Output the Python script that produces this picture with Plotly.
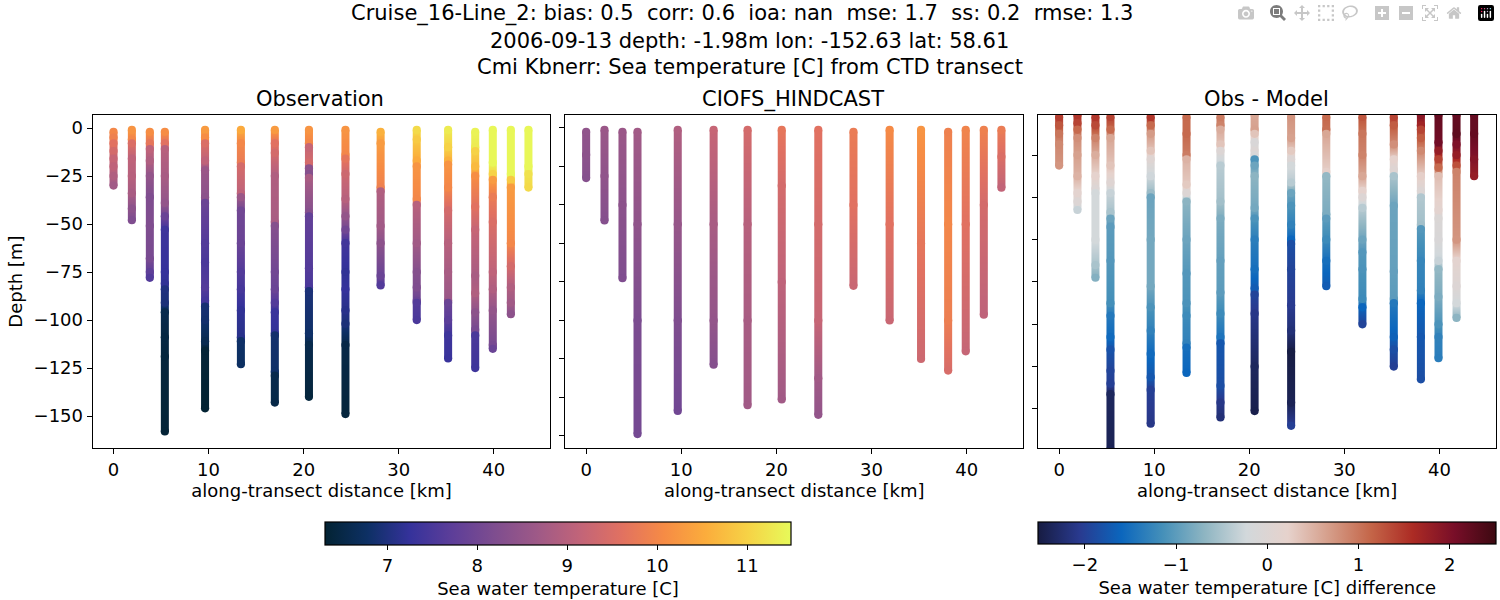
import plotly.graph_objects as go

FONT = "DejaVu Sans"
W, H = 1500, 600

distance_km = [0.0, 1.93, 3.82, 5.4, 9.63, 13.4, 16.97, 20.56, 24.4, 28.1, 31.9, 35.2, 38.05, 39.9, 41.8, 43.65]

# (depth m, temperature C) read along each cast
obs_casts = [
    [(2,10.0),(5,9.9),(8,9.6),(12,9.4),(16,9.2),(20,9.1),(25,8.9),(30,8.7)],
    [(1,10.2),(6,10.0),(8,9.5),(16,9.1),(25,9.0),(34,8.8),(42,8.4),(48,8.2)],
    [(2,10.1),(8,9.7),(11,9.1),(17,8.9),(25,8.5),(36,8.2),(51,8.2),(68,8.1),(75,7.75),(78,7.6)],
    [(2,10.1),(8,9.6),(11,9.0),(25,8.8),(39,8.5),(46,7.9),(53,7.35),(75,7.25),(81,7.2),(84,7.0),(91,6.95),(96,6.55),(109,6.45),(119,6.4),(158,6.35)],
    [(1,10.3),(5,10.1),(8,9.5),(17,9.1),(22,8.6),(36,8.4),(39,7.9),(60,7.6),(70,7.5),(83,7.6),(90,7.4),(93,6.9),(100,6.85),(111,6.6),(116,6.35),(146,6.3)],
    [(1,10.5),(8,10.0),(18,9.8),(20,9.4),(34,9.1),(36,8.6),(43,8.0),(60,7.9),(75,7.6),(84,7.45),(95,7.2),(109,7.1),(111,6.8),(123,6.75)],
    [(1,10.3),(8,9.6),(13,9.4),(25,8.9),(49,8.8),(51,8.3),(75,8.0),(84,7.9),(91,7.6),(96,7.3),(107,7.2),(108,6.85),(127,6.8),(129,6.55),(143,6.5)],
    [(1,10.2),(8,10.0),(10,9.2),(18,9.4),(21,8.4),(24,8.3),(26,8.8),(44,8.3),(46,7.8),(73,7.6),(83,7.5),(85,6.95),(107,6.8),(113,6.55),(140,6.4)],
    [(1,10.2),(14,10.0),(16,9.7),(24,9.3),(37,9.0),(46,8.5),(53,8.0),(60,7.4),(75,7.2),(84,7.25),(95,7.1),(102,6.95),(113,6.5),(149,6.4)],
    [(2,10.6),(8,10.3),(31,9.9),(33,8.9),(51,8.7),(60,8.4),(77,7.9),(82,7.6)],
    [(1,11.1),(6,10.9),(17,10.5),(20,10.2),(37,10.0),(40,9.0),(60,8.7),(75,8.3),(83,8.2),(90,7.9),(91,7.6),(100,7.5)],
    [(1,11.3),(10,11.0),(17,10.6),(19,10.2),(31,10.0),(43,9.4),(60,9.0),(75,8.8),(90,8.6),(91,7.9),(100,7.7),(108,7.35),(120,7.3)],
    [(2,11.4),(10,11.3),(12,11.0),(20,10.7),(25,10.1),(41,9.6),(53,9.2),(77,8.8),(86,8.9),(96,8.4),(105,8.1),(108,7.5),(125,7.35)],
    [(1,11.45),(18,11.45),(24,11.0),(27,10.3),(36,9.8),(49,9.5),(75,9.1),(84,8.9),(95,8.5),(113,8.1),(115,7.9)],
    [(1,11.45),(24,11.45),(27,10.9),(31,10.3),(60,10.0),(72,9.4),(83,8.9),(91,8.7),(97,8.4)],
    [(1,11.45),(20,11.45),(24,11.2),(31,11.1)],
]

model_casts = [
    [(2,8.45),(14,8.4),(26,8.3)],
    [(1,8.6),(25,8.45),(48,8.3)],
    [(2,8.6),(40,8.4),(78,8.2)],
    [(2,8.7),(50,8.45),(100,8.15),(159,8.05)],
    [(1,8.9),(50,8.55),(100,8.2),(147,8.0)],
    [(1,9.2),(50,8.8),(100,8.5),(123,8.3)],
    [(1,9.4),(50,9.0),(100,8.8),(144,8.7)],
    [(1,9.7),(30,9.4),(80,9.1),(141,8.7)],
    [(1,9.6),(50,9.4),(100,9.2),(130,8.7),(149,8.5)],
    [(2,9.8),(40,9.6),(82,9.25)],
    [(1,10.05),(50,9.6),(100,9.25)],
    [(1,10.2),(60,9.7),(120,9.3)],
    [(2,9.9),(50,10.0),(100,9.85),(126,9.45)],
    [(1,9.95),(50,9.6),(116,9.2)],
    [(1,9.9),(40,9.4),(97,9.1)],
    [(1,9.8),(15,9.5),(31,9.15)],
]

diff_casts = [
    [(2,1.45),(6,1.25),(10,1.0),(15,0.85),(25,0.75)],
    [(1,1.5),(5,1.4),(8,1.1),(12,0.8),(20,0.65),(30,0.5),(38,0.15),(42,0.0),(46,-0.3)],
    [(2,1.5),(6,1.35),(12,0.9),(20,0.55),(30,0.2),(36,0.0),(38,-0.2),(60,-0.2),(72,-0.5),(78,-0.75)],
    [(2,1.4),(8,1.1),(12,0.6),(25,0.35),(33,0.05),(38,-0.3),(47,-0.5),(50,-0.9),(54,-1.0),(70,-1.05),(90,-1.15),(96,-1.4),(106,-1.55),(112,-1.8),(122,-1.95),(128,-2.0),(133,-2.35),(159,-2.4)],
    [(2,1.5),(6,1.1),(10,0.7),(18,0.35),(22,0.05),(30,-0.25),(38,-0.6),(40,-0.9),(60,-0.85),(82,-0.85),(92,-1.1),(103,-1.3),(114,-1.55),(125,-1.75),(131,-2.0),(147,-2.1)],
    [(2,1.1),(10,1.1),(20,0.95),(22,0.5),(34,0.3),(38,0.0),(42,-0.7),(60,-0.9),(76,-1.05),(90,-1.1),(96,-1.2),(109,-1.3),(111,-1.5),(123,-1.6)],
    [(2,0.95),(6,0.9),(8,0.55),(15,0.35),(18,0.0),(25,-0.4),(42,-0.55),(50,-0.8),(70,-0.95),(85,-1.0),(95,-1.2),(106,-1.45),(109,-1.75),(129,-1.85),(137,-2.1),(144,-2.2)],
    [(1,0.6),(8,0.65),(10,0.35),(14,-0.1),(18,0.0),(20,-0.1),(22,-1.1),(25,-0.9),(30,-0.7),(45,-0.85),(50,-1.1),(60,-1.35),(74,-1.5),(83,-1.7),(86,-1.95),(95,-2.1),(120,-2.35),(141,-2.45)],
    [(2,0.75),(12,0.65),(18,0.3),(22,0.0),(25,-0.2),(33,-0.4),(38,-0.9),(44,-1.1),(53,-1.3),(60,-1.6),(62,-1.85),(74,-1.95),(91,-2.05),(103,-2.2),(113,-2.5),(137,-2.4),(148,-2.0)],
    [(2,1.1),(8,1.05),(10,0.6),(28,0.25),(30,-0.65),(48,-0.8),(50,-1.0),(60,-1.2),(70,-1.5),(82,-1.7)],
    [(2,1.25),(10,1.0),(20,0.9),(30,0.6),(37,0.2),(40,0.0),(45,-0.4),(60,-0.9),(66,-1.05),(74,-1.1),(88,-1.2),(92,-1.6),(100,-1.95)],
    [(2,1.4),(6,1.2),(15,0.8),(22,0.2),(27,0.05),(30,-0.5),(44,-0.9),(75,-0.95),(88,-1.0),(90,-1.4),(106,-1.65),(112,-1.85),(120,-2.0)],
    [(1,1.9),(6,1.7),(8,1.4),(12,1.2),(18,0.85),(30,0.25),(37,0.0),(40,-0.45),(53,-0.55),(55,-1.05),(70,-1.25),(84,-1.3),(90,-1.6),(106,-1.75),(126,-1.85)],
    [(1,2.2),(14,2.1),(18,1.8),(22,1.4),(26,1.1),(30,0.4),(46,0.15),(50,-0.05),(60,-0.1),(70,-0.3),(74,-0.65),(87,-0.8),(100,-1.1),(106,-1.3),(116,-1.35)],
    [(1,2.2),(10,2.25),(15,2.0),(20,1.8),(25,1.3),(28,0.9),(60,0.75),(70,0.15),(82,0.0),(90,-0.2),(97,-0.7)],
    [(1,2.2),(10,2.2),(22,1.95),(30,1.8)],
]

temp_ticks = [7, 8, 9, 10, 11]
diff_ticks = [-2, -1, 0, 1, 2]
x_ticks = [0, 10, 20, 30, 40]
y_ticks_obs = [0, -25, -50, -75, -100, -125, -150]
y_ticks_model = [0, -20, -40, -60, -80, -100, -120, -140, -160]
y_ticks_diff = [-20, -40, -60, -80, -100, -120, -140]

TITLE_1 = "Cruise_16-Line_2: bias: 0.5  corr: 0.6  ioa: nan  mse: 1.7  ss: 0.2  rmse: 1.3"
TITLE_2 = "2006-09-13 depth: -1.98m lon: -152.63 lat: 58.61"
TITLE_3 = "Cmi Kbnerr: Sea temperature [C] from CTD transect"

fig = go.Figure()


def draw_panel(casts, xa, ya, cax):
    xs, ys, cs = [], [], []
    half = 0.42
    for d, cast in zip(distance_km, casts):
        depth = [p[0] for p in cast]
        val = [p[1] for p in cast]
        # short end rows stop the heatmap from running past the cast ends
        yy = [-(depth[0] + 0.01)] + [-v for v in depth] + [-(depth[-1] - 0.01)]
        yy[0], yy[-1] = -(depth[0] - 0.01), -(depth[-1] + 0.01)
        zz = [val[0]] + val + [val[-1]]
        fig.add_trace(go.Heatmap(
            x=[d - half / 2, d + half / 2], y=yy, z=[[v, v] for v in zz],
            zsmooth="best", coloraxis=cax, xaxis=xa, yaxis=ya, hoverinfo="skip"))
        xs += [d] * len(depth)
        ys += [-v for v in depth]
        cs += val
    fig.add_trace(go.Scatter(
        x=xs, y=ys, mode="markers", xaxis=xa, yaxis=ya, showlegend=False,
        marker=dict(size=8.2, color=cs, coloraxis=cax, line=dict(width=0))))


draw_panel(obs_casts, "x", "y", "coloraxis")
draw_panel(model_casts, "x2", "y2", "coloraxis")
draw_panel(diff_casts, "x3", "y3", "coloraxis2")


def dom_x(a, b):
    return [a / W, b / W]


def dom_y(top, bottom):
    return [1 - bottom / H, 1 - top / H]


axis_common = dict(showline=True, linecolor="black", linewidth=1.2, mirror=True,
                   ticks="outside", ticklen=5, tickwidth=1.2, tickcolor="black",
                   showgrid=False, zeroline=False,
                   tickfont=dict(family=FONT, size=18, color="black"))
x_common = dict(axis_common, range=[-2.19, 45.95], tickvals=x_ticks,
                title=dict(text="along-transect distance [km]", standoff=4,
                           font=dict(family=FONT, size=18, color="black")))

fig.update_layout(
    width=W, height=H, margin=dict(l=0, r=0, t=0, b=0),
    paper_bgcolor="white", plot_bgcolor="white", showlegend=False,
    font=dict(family=FONT, size=18, color="black"),
    xaxis=dict(x_common, domain=dom_x(92.7, 550.3), anchor="y"),
    xaxis2=dict(x_common, domain=dom_x(565.3, 1023.3), anchor="y2"),
    xaxis3=dict(x_common, domain=dom_x(1038.3, 1496), anchor="y3"),
    yaxis=dict(axis_common, domain=dom_y(115, 448.3), anchor="x", range=[-166.8, 6.77],
               tickvals=y_ticks_obs,
               title=dict(text="Depth [m]", standoff=6, font=dict(family=FONT, size=18, color="black"))),
    yaxis2=dict(axis_common, domain=dom_y(115, 448.3), anchor="x2", range=[-166.4, 6.75],
                tickvals=y_ticks_model, showticklabels=False),
    yaxis3=dict(axis_common, domain=dom_y(115, 448.3), anchor="x3", range=[-158.6, -1.1],
                tickvals=y_ticks_diff, showticklabels=False),
    coloraxis=dict(colorscale="thermal", cmin=6.307, cmax=11.486, colorbar=dict(
        orientation="h", x=325 / W, xanchor="left", y=1 - 522.3 / H, yanchor="top",
        lenmode="pixels", len=465.7, thicknessmode="pixels", thickness=22.7, xpad=0, ypad=0,
        outlinecolor="black", outlinewidth=1.2, tickvals=temp_ticks, ticks="outside", ticklen=5,
        tickwidth=1.2, tickcolor="black", tickfont=dict(family=FONT, size=18, color="black"),
        title=dict(text="Sea water temperature [C]", side="bottom",
                   font=dict(family=FONT, size=18, color="black")))),
    coloraxis2=dict(colorscale="balance", cmin=-2.51, cmax=2.51, colorbar=dict(
        orientation="h", x=1038.3 / W, xanchor="left", y=1 - 522.3 / H, yanchor="top",
        lenmode="pixels", len=458.4, thicknessmode="pixels", thickness=22, xpad=0, ypad=0,
        outlinecolor="black", outlinewidth=1.2, tickvals=diff_ticks, ticks="outside", ticklen=5,
        tickwidth=1.2, tickcolor="black", tickfont=dict(family=FONT, size=18, color="black"),
        title=dict(text="Sea water temperature [C] difference", side="bottom",
                   font=dict(family=FONT, size=18, color="black")))),
)


def label(text, x_px, y_px, size):
    fig.add_annotation(text=text, x=x_px / W, y=1 - y_px / H, xref="paper", yref="paper",
                       xanchor="center", yanchor="middle", showarrow=False,
                       font=dict(family=FONT, size=size, color="black"))


label(TITLE_1, 742, 14, 21)
label(TITLE_2, 749, 41, 21)
label(TITLE_3, 750, 67, 21)
label("Observation", 320, 99, 21)
label("CIOFS_HINDCAST", 793, 99, 21)
label("Obs - Model", 1266, 99, 21)

fig.write_html("out.html", post_script="document.body.style.margin='0';")
